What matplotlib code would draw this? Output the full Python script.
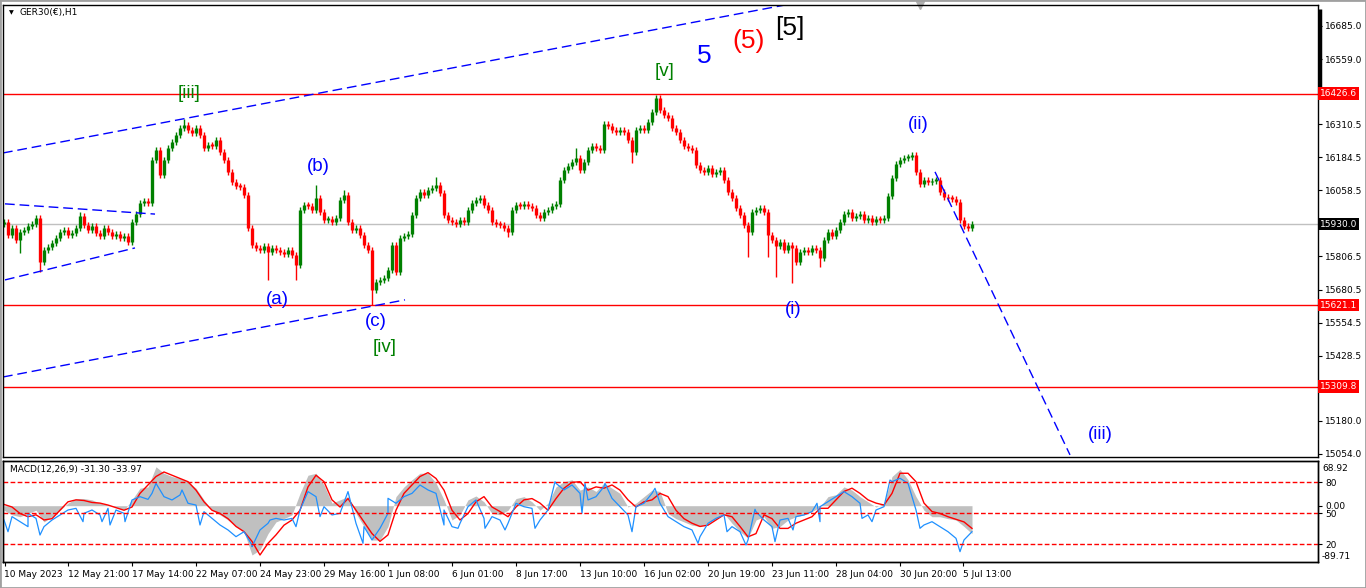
import matplotlib
matplotlib.use("Agg")
import matplotlib.pyplot as plt
import matplotlib.transforms as mtransforms
from matplotlib.patches import Rectangle
import numpy as np

plt.rcParams['font.family'] = ['DejaVu Sans']

W, H = 1366, 588

# GER30 H1 closes, one value per 4 hourly bars
closes = [
    15938, 15888, 15915, 15869, 15900, 15908, 15923, 15930, 15953, 15786,
    15831, 15843, 15858, 15877, 15900, 15908, 15888, 15896, 15915, 15961,
    15927, 15908, 15923, 15896, 15885, 15915, 15900, 15885, 15892, 15877,
    15885, 15862, 15938, 15968, 16010, 16018, 16010, 16174, 16212, 16117,
    16174, 16220, 16243, 16270, 16296, 16308, 16289, 16277, 16296, 16270,
    16220, 16231, 16228, 16251, 16205, 16174, 16129, 16090, 16075, 16071,
    16041, 15915, 15850, 15839, 15831, 15847, 15824, 15839, 15831, 15824,
    15816, 15831, 15812, 15774, 15984, 16003, 15999, 15984, 16029, 15976,
    15946, 15949, 15938, 15953, 16022, 16041, 15938, 15908, 15915, 15888,
    15850, 15831, 15679, 15709, 15717, 15725, 15755, 15850, 15747, 15877,
    15885, 15892, 15965, 16029, 16052, 16041, 16060, 16068, 16079, 16048,
    15965, 15946, 15938, 15930, 15946, 15938, 15984, 16010, 16022, 16029,
    16003, 15984, 15938, 15930, 15927, 15915, 15900, 15984, 16003, 15999,
    16007, 15999, 15991, 15965, 15953, 15976, 15984, 15999, 16007, 16098,
    16136, 16151, 16167, 16182, 16136, 16167, 16212, 16228, 16220, 16212,
    16311, 16304, 16289, 16281, 16289, 16281, 16251, 16205, 16289, 16296,
    16289, 16319, 16357, 16411, 16365, 16346, 16334, 16296, 16281, 16251,
    16228, 16220, 16212, 16155, 16136, 16129, 16144, 16121, 16129, 16136,
    16098, 16052, 16029, 15991, 15965, 15927, 15900, 15976, 15984, 15991,
    15976, 15888, 15869, 15847, 15862, 15831, 15850, 15839, 15786, 15824,
    15831, 15824, 15839, 15831, 15801, 15869, 15900, 15885, 15908, 15938,
    15968, 15976, 15953, 15961, 15968, 15946, 15953, 15938, 15949, 15946,
    15953, 16037, 16106, 16159, 16174, 16182, 16186, 16193, 16129, 16083,
    16098, 16090, 16094, 16098, 16052, 16033, 16029, 16026, 16014, 15946,
    15923, 15915, 15930,
]
first_open = 15930
# wick extremes of notable spikes: candle index -> price
wick_highs = {19: 15976, 45: 16331, 78: 16079, 85: 16060, 108: 16109,
              143: 16220, 163: 16422, 227: 16205}
wick_lows = {4: 15820, 9: 15747, 66: 15717, 73: 15717, 92: 15622, 126: 15881,
             157: 16163, 186: 15805, 191: 15805, 193: 15728, 197: 15706, 204: 15767}

# MACD pane, one value per 8 bars
macd_hist = [
    -7, -14, -17, -12, -7, -25, -17, -7, 4, 11,
    11, 9, 4, 1, -2, -7, 9, 27, 29, 60,
    50, 45, 42, 37, 27, 9, -7, -14, -22, -32,
    -40, -76, -68, -43, -25, -20, -14, 19, 47, 50,
    32, 4, 9, 14, -12, -32, -53, -53, -32, 14,
    29, 40, 50, 50, 35, 9, -22, -14, 9, 15,
    6,
    -12, -14, -7, 11, 14, 6, -7, 4, 29, 37,
    40, 24, 29, 22, 35, 27, 19, -2, 4, 14,
    24, 22, -12, -20, -25, -30, -32, -27, -20, -12,
    -27, -40, -50, -22, -17, -35, -32, -22, -17, -14,
    -9, -2, 14, 17, 29, 24, 14, 6, -2, 4,
    45, 56, 40, 14, -7, -17, -17, -20, -22, -32,
    -43,
]
macd_signal = [
    2, -2, -12, -17, -14, -22, -20, -7, 6, 9,
    8, 5, 4, 1, -3, -7, -2, 19, 32, 45,
    52, 47, 42, 37, 24, 6, -7, -12, -20, -32,
    -40, -55, -76, -58, -45, -30, -22, -7, 29, 47,
    37, 9, -2, 11, -7, -25, -43, -55, -45, -7,
    19, 32, 45, 51, 42, 24, -7, -22, -12, 6,
    14,
    -2, -9, -17, -2, 9, 11, 4, -7, 11, 27,
    36, 37, 24, 29, 27, 32, 24, 9, -2, 6,
    9, 19, 14, -7, -20, -27, -32, -30, -22, -14,
    -17, -32, -48, -43, -14, -20, -35, -35, -27, -22,
    -17, -4, -4, 9, 22, 27, 19, 9, 4, 1,
    19, 50, 50, 37, 4, -9, -12, -17, -21, -25,
    -35,
]
# oscillator drawn in the same pane (0-100 scale)
osc = [
    43.5, 46.8, 41.9, 50.0, 45.1, 37.1, 43.5, 48.4, 53.2, 54.8,
    50.0, 53.2, 48.4, 54.8, 53.2, 50.0, 62.9, 66.1, 63.5, 79.0,
    66.1, 62.9, 67.7, 59.7, 58.0, 51.6, 45.1, 38.7, 33.9, 27.4,
    32.2, 19.3, 33.9, 40.3, 45.1, 43.5, 45.1, 53.2, 71.0, 66.1,
    56.4, 48.4, 50.0, 71.0, 40.3, 37.1, 24.2, 35.5, 50.0, 59.7,
    66.1, 69.3, 77.4, 72.6, 69.3, 53.2, 37.1, 40.3, 56.4, 62.9,
    45.1,
    46.8, 43.5, 40.3, 59.7, 56.4, 54.8, 43.5, 53.2, 79.0, 72.6,
    77.4, 69.3, 62.9, 66.1, 75.8, 64.5, 56.4, 48.4, 56.4, 59.7,
    69.3, 59.7, 46.8, 41.9, 37.1, 33.9, 27.4, 40.3, 45.1, 48.4,
    37.1, 32.2, 24.2, 51.6, 43.5, 37.1, 43.5, 45.1, 46.8, 48.4,
    51.6, 56.4, 61.3, 66.1, 71.0, 66.1, 59.7, 48.4, 53.2, 56.4,
    80.6, 83.9, 79.0, 53.2, 38.7, 41.9, 37.1, 32.2, 25.8, 24.2,
    32.2,
]
# extra oscillator spikes: (bar, value)
osc_spikes = [(5, 32.2), (25, 37.1), (37, 29.0), (80, 41.9), (99, 41.9),
              (107, 38.7), (122, 41.9), (149, 69.3), (179, 72.6), (197, 38.7),
              (249, 17.7), (267, 43.5), (293, 37.1), (317, 46.8), (360, 21.0),
              (385, 64.5), (441, 38.7), (455, 35.5), (482, 35.5), (502, 33.9),
              (532, 35.5), (552, 80.6), (579, 50.0), (582, 79.0), (602, 79.0),
              (629, 32.2), (652, 74.2), (695, 21.0), (724, 32.2), (743, 19.3),
              (752, 53.9), (772, 22.6), (790, 33.9), (814, 59.7), (817, 41.9),
              (859, 45.1), (869, 41.9), (887, 82.2), (917, 35.5), (957, 12.9)]

red_levels = [16426.6, 15621.1, 15309.8]
last_price = 15930.0
price_ticks = [16685.0, 16559.0, 16310.5, 16184.5, 16058.5, 15806.5,
               15680.5, 15554.5, 15428.5, 15180.0, 15054.0]
time_labels = ["10 May 2023", "12 May 21:00", "17 May 14:00", "22 May 07:00",
               "24 May 23:00", "29 May 16:00", "1 Jun 08:00", "6 Jun 01:00",
               "8 Jun 17:00", "13 Jun 10:00", "16 Jun 02:00", "20 Jun 19:00",
               "23 Jun 11:00", "28 Jun 04:00", "30 Jun 20:00", "5 Jul 13:00"]

# trend lines: (bar0, price0), (bar1, price1)
trendlines = [
    ((0, 16201), (782, 16765)),
    ((0, 15347), (402, 15641)),
    ((2, 16007), (152, 15968)),
    ((2, 15717), (132, 15839)),
    ((932, 16129), (1067, 15050)),
]

# wave labels: (text, bar, price, colour, size)
waves = [
    ("[iii]", 186, 16426, "#008000", 13.5),
    ("(b)", 315, 16148, "#0000ff", 13.5),
    ("(a)", 274, 15641, "#0000ff", 13.5),
    ("(c)", 373, 15557, "#0000ff", 13.5),
    ("[iv]", 382, 15458, "#008000", 13.5),
    ("[v]", 662, 16513, "#008000", 13.5),
    ("5", 701, 16571, "#0000ff", 19),
    ("(5)", 746, 16628, "#ff0000", 19),
    ("[5]", 787, 16677, "#000000", 19),
    ("(ii)", 915, 16308, "#0000ff", 13.5),
    ("(i)", 790, 15606, "#0000ff", 13.5),
    ("(iii)", 1097, 15126, "#0000ff", 13.5),
]

fig = plt.figure(figsize=(W / 100, H / 100), dpi=100)
fig.patch.set_facecolor("white")
ax = fig.add_axes([3 / W, 1 - 457 / H, 1315 / W, 452 / H])
axm = fig.add_axes([3 / W, 1 - 562 / H, 1315 / W, 101 / H])
axb = axm.twinx()

# ---- candles
c = np.array(closes, dtype=float)
o = np.concatenate([[first_open], c[:-1]])
x = 1 + 4 * np.arange(len(c))
hi = np.maximum(o, c) + 12
lo = np.minimum(o, c) - 12
for k, v in wick_highs.items():
    hi[k] = v
for k, v in wick_lows.items():
    lo[k] = v
cols = np.where(c >= o, "#008000", "#ff0000")
ax.vlines(x, lo, hi, colors=cols, lw=1.0)
body_lo = np.minimum(o, c)
body_hi = np.maximum(np.maximum(o, c), body_lo + 6)
ax.vlines(x, body_lo, body_hi, colors=cols, lw=2.4)

for lvl in red_levels:
    ax.axhline(lvl, color="#ff0000", lw=1.0, zorder=1)
ax.axhline(last_price, color="#c0c0c0", lw=1.0, zorder=0)

for (x0, y0), (x1, y1) in trendlines:
    ax.plot([x0, x1], [y0, y1], color="#0000ff", lw=1.0, dashes=(7, 3.5))

for txt, bx, py, col, fs in waves:
    ax.text(bx, py, txt, color=col, fontsize=fs, ha="center", va="center",
            family=["Liberation Sans", "DejaVu Sans"])

ax.set_xlim(0, 1315)
ax.set_ylim(15042, 16765)
ax.set_xticks([])
ax.yaxis.tick_right()
ax.set_yticks(price_ticks)
ax.set_yticklabels([f"{v:.1f}" for v in price_ticks])
ax.tick_params(axis="y", direction="out", length=3, pad=2, labelsize=6.5, width=0.8)

trans = mtransforms.blended_transform_factory(ax.transAxes, ax.transData)
for lvl in red_levels:
    ax.text(1.0015, lvl, f"{lvl:.1f}", transform=trans, color="white", fontsize=6.5,
            va="center", ha="left", clip_on=False,
            bbox=dict(boxstyle="square,pad=0.2", fc="#ff0000", ec="none"))
ax.text(1.0015, last_price, f"{last_price:.1f}", transform=trans, color="white",
        fontsize=6.5, va="center", ha="left", clip_on=False,
        bbox=dict(boxstyle="square,pad=0.2", fc="#000000", ec="none"))
ax.plot([1.0015, 1.0015], [16749, 16436], transform=trans, color="black", lw=2.5,
        clip_on=False, solid_capstyle="butt")
ax.plot([917], [1.0], marker="v", color="#b0b0b0", ms=6,
        transform=mtransforms.blended_transform_factory(ax.transData, ax.transAxes),
        clip_on=False)

ax.text(17 / 1315, 1 - 8 / 452, "GER30(€),H1", transform=ax.transAxes, fontsize=6.5,
        va="center", ha="left")
ax.text(6 / 1315, 1 - 8 / 452, "▼", transform=ax.transAxes, fontsize=4.5,
        va="center", ha="left")

# ---- MACD pane
xi = 1 + 8 * np.arange(len(macd_hist))
axm.fill_between(xi, 0, macd_hist, color="#c0c0c0", lw=0)
axm.plot(xi, macd_signal, color="#ff0000", lw=1.0)
axm.set_xlim(0, 1315)
axm.set_ylim(-86.8, 68.92)
axm.yaxis.tick_right()
axm.set_yticks([0])
axm.set_yticklabels(["0.00"])
axm.tick_params(axis="y", direction="out", length=3, pad=2, labelsize=6.5, width=0.8,
                left=False, labelleft=False, right=True, labelright=True)
axm.text(1.003, 0.93, "68.92", transform=axm.transAxes, fontsize=6.5, va="center")
axm.text(1.003, 0.05, "-89.71", transform=axm.transAxes, fontsize=6.5, va="center")
axm.text(7 / 1315, 0.92, "MACD(12,26,9) -31.30 -33.97", transform=axm.transAxes,
         fontsize=6.5, va="center", ha="left")

tick_pos = 1.5 + 63.93 * np.arange(len(time_labels))
axm.set_xticks(tick_pos)
axm.set_xticklabels(time_labels, ha="left")
axm.tick_params(axis="x", direction="out", length=3, pad=3, labelsize=6.5, width=0.8)

sx = np.concatenate([xi, [s[0] for s in osc_spikes]])
sy = np.concatenate([osc, [s[1] for s in osc_spikes]])
order = np.argsort(sx)
axb.plot(sx[order], sy[order], color="#1e90ff", lw=0.9)
for lvl in (80, 50, 20):
    axb.axhline(lvl, color="#ff0000", lw=1.0, dashes=(3.4, 1.7))
axb.set_ylim(2.9, 100.6)
axb.set_xlim(0, 1315)
axb.set_yticks([80, 50, 20])
axb.set_yticklabels(["80", "50", "20"])
axb.tick_params(axis="y", direction="out", length=3, pad=2, labelsize=6.5, width=0.8)

for a in (ax, axm, axb):
    for s in a.spines.values():
        s.set_linewidth(1.0)
        s.set_color("black")

fig.patches.append(Rectangle((0, 0), 1, 1, transform=fig.transFigure, fill=False,
                             ec="#a0a0a0", lw=2))

fig.savefig("out.png", dpi=100)
